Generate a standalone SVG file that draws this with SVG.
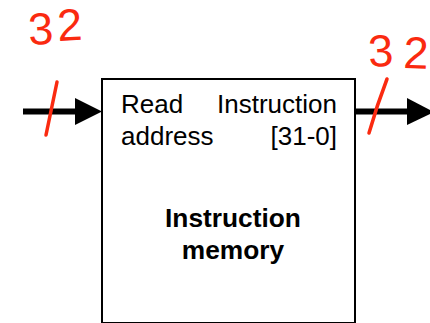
<svg xmlns="http://www.w3.org/2000/svg" width="430" height="323" viewBox="0 0 430 323">
<style>
text{font-family:"Liberation Sans",Arial,sans-serif;fill:#000}
.l{font-size:26px}
.b{font-size:26.300px;font-weight:bold;text-anchor:middle}
.hw{font-size:45px;fill:#fa2a10}
.tick{stroke:#fa2a10;stroke-width:3.500;stroke-linecap:round;fill:none}
.wire{stroke:#000;stroke-width:6;fill:none}
</style>
<rect width="430" height="323" fill="#fff"/>
<g id="connectors">
<path class="wire" d="M23 111.500H76"/>
<polygon points="75,98 102,111.500 75,125"/>
<path class="wire" d="M356 111.500H408"/>
<polygon points="407,98 430,110 430,114 407,125"/>
</g>
<g id="instruction-memory">
<rect x="102" y="79" width="253" height="244" fill="#fff" stroke="#000" stroke-width="2"/>
<text class="l" x="121" y="113">Read</text>
<text class="l" x="121" y="145">address</text>
<text class="l" x="337" y="113" text-anchor="end">Instruction</text>
<text class="l" x="337" y="145" text-anchor="end">[31-0]</text>
<text class="b" x="233" y="227">Instruction</text>
<text class="b" x="233" y="259">memory</text>
</g>
<g id="annotations">
<path class="tick" d="M57 82L46 135"/>
<path class="tick" d="M387 79Q377 105 369 133"/>
<text class="hw" transform="translate(29 45) rotate(-3)">3</text>
<text class="hw" transform="translate(58 41) rotate(-3)">2</text>
<text class="hw" transform="translate(369 67) rotate(-3)">3</text>
<text class="hw" transform="translate(403 68) rotate(2)">2</text>
</g>
</svg>
